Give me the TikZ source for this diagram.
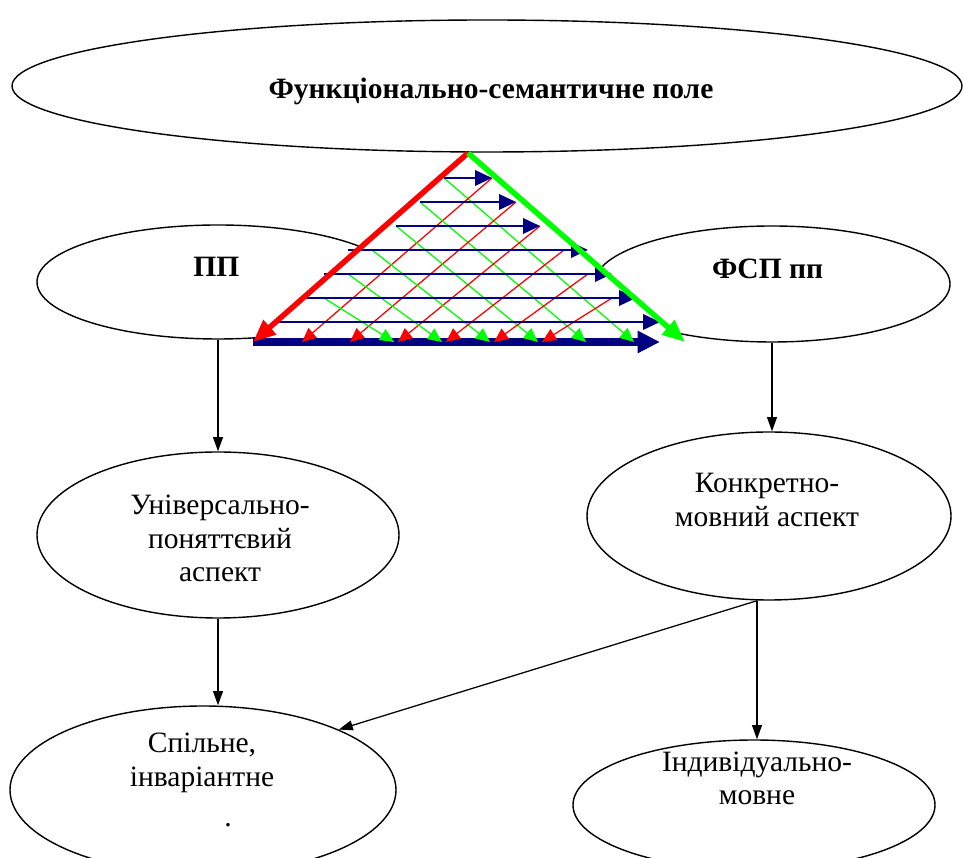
\documentclass[tikz,border=0pt]{standalone}
\usepackage{fontspec}
\setmainfont{Liberation Serif}
\usepackage{tikz}
\usetikzlibrary{arrows.meta,shapes.geometric}

\definecolor{navy}{RGB}{0,0,128}

\begin{document}
\begin{tikzpicture}[>={Triangle[length=10pt,width=7pt]}, scale=1.0,
  oval/.style={ellipse, draw, line width=1pt, inner sep=0pt},
  txt/.style={font=\fontsize{21}{24}\selectfont, align=center, anchor=base},
  link/.style={->, line width=0.9pt}]
  \useasboundingbox (0,0) rectangle (24.075,21.45);

  % Ellipses
  \node[oval, minimum width=23.75cm, minimum height=3.3cm] (field) at (12.175,19.3) {};
  \node[oval, minimum width=9.05cm, minimum height=2.85cm] (pp) at (5.45,14.4) {};
  \node[oval, minimum width=8.9cm, minimum height=2.9cm] (fsp) at (19.3,14.35) {};
  \node[oval, minimum width=9.05cm, minimum height=4.15cm] (univ) at (5.45,8.075) {};
  \node[oval, minimum width=9.1cm, minimum height=4.2cm] (konkr) at (19.225,8.55) {};
  \node[oval, minimum width=9.65cm, minimum height=4.2cm] (spil) at (5.075,1.7) {};
  \node[oval, minimum width=9.05cm, minimum height=3.25cm] (indiv) at (18.85,1.325) {};

  % Labels (base = last line)
  \node[txt, font=\fontsize{21}{24}\selectfont\bfseries] (fieldtext) at (12.275,18.99) {Функціонально-семантичне поле};
  \node[txt, font=\fontsize{21}{24}\selectfont\bfseries] (pptext) at (5.41,14.53) {ПП};
  \node[txt, font=\fontsize{21}{24}\selectfont\bfseries] (fsptext) at (19.19,14.49) {ФСП пп};
  \node[txt] (univtext) at (5.5,6.9) {Універсально-\\поняттєвий\\аспект};
  \node[txt] (konkrtext) at (19.175,8.283) {Конкретно-\\мовний аспект};
  \node[txt] (spiltext) at (5.05,1.783) {Спільне,\\інваріантне};
  \node[txt] (dottext) at (5.7,0.78) {.};
  \node[txt] (indivtext) at (18.925,1.325) {Індивідуально-\\мовне};

  % Triangle
  \coordinate (top) at (11.7,17.625);
  \coordinate (left) at (6.325,12.9);
  \coordinate (right) at (17.125,12.9);
  \fill[white] (top) -- (left) -- (right) -- cycle;
  \draw[navy, line width=5pt, -{Triangle[length=16pt,width=15pt]}] (left) -- (16.5,12.9);
  \foreach \k in {1,...,6} {
    \draw[green, line width=0.9pt, -{Triangle[length=10pt,width=9pt]}] (11.7-0.6*\k,17.6-0.6*\k) -- (17.05-1.2*\k,12.9);
    \draw[red, line width=0.9pt, -{Triangle[length=10pt,width=9pt]}] (11.7+0.6*\k,17.6-0.6*\k) -- (6.35+1.2*\k,12.9);
  }
  \foreach \k/\w in {1/1,2/2,3/3,4/5,5/6,6/7,7/8} {
    \draw[navy, line width=1.3pt, -{Triangle[length=12pt,width=11pt]}] (11.7-0.6*\w,17.6-0.6*\k) -- (11.7+0.6*\w,17.6-0.6*\k);
  }
  \draw[red, line width=3.9pt, -{Triangle[length=16pt,width=13pt]}] (top) -- (left);
  \draw[green, line width=3.9pt, -{Triangle[length=16pt,width=13pt]}] (top) -- (right);

  % Connectors
  \draw[link] (pp.south) -- (univ.north);
  \draw[link] (fsp.south) -- (fsp.south |- konkr.north);
  \draw[link] (univ.south) -- (univ.south |- spil.north);
  \coordinate (fork) at ([xshift=-0.3cm]konkr.south);
  \draw[link] (fork) -- (fork |- indiv.north);
  \draw[link] (fork) -- (spil.24);
\end{tikzpicture}
\end{document}
